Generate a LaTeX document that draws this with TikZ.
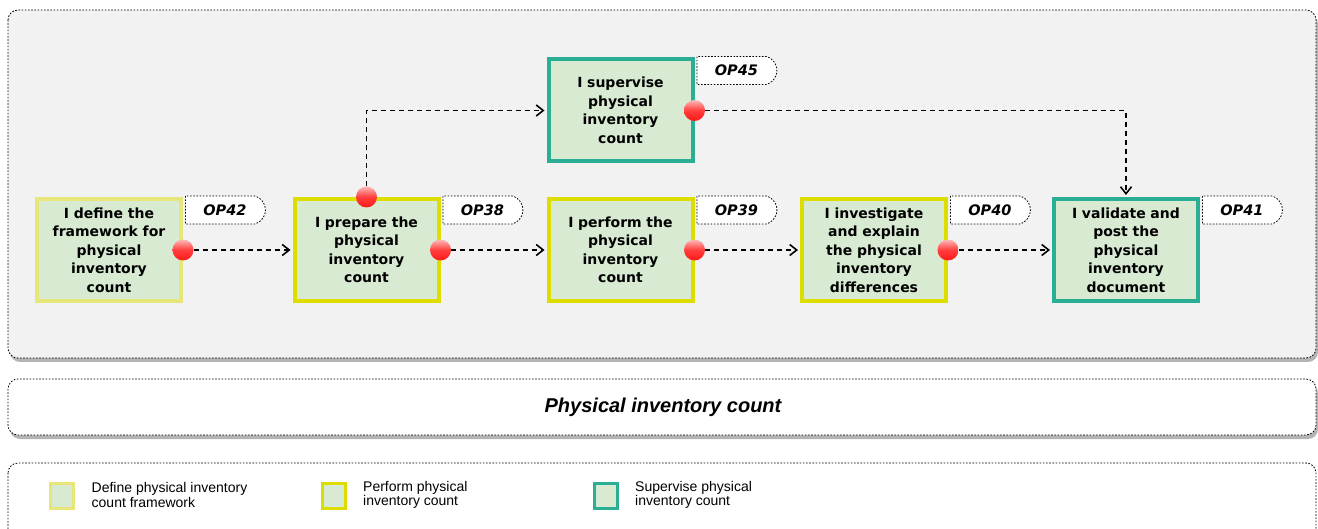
\documentclass[tikz,border=0pt]{standalone}
\usepackage{fontspec}
\setmainfont{DejaVu Sans}
\newfontfamily\arialf{Liberation Sans}
\usetikzlibrary{arrows.meta,shapes.misc}
\definecolor{boxfill}{HTML}{D9EAD3}
\definecolor{ylight}{HTML}{E6E67A}
\definecolor{ystrong}{HTML}{DDDD00}
\definecolor{teal}{HTML}{2AAF94}
\definecolor{panel}{HTML}{F2F2F2}
\definecolor{shadowgray}{HTML}{B4B4B4}
\definecolor{dotred}{HTML}{FF1A1A}
\pgfdeclarelayer{bgl}
\pgfdeclarelayer{tagl}
\pgfsetlayers{bgl,tagl,main}
\tikzset{
  frame/.style={draw=black, line width=0.8pt, dash pattern=on 1.6pt off 1.6pt, rounded corners=10pt},
  actbox/.style={draw, line width=4pt, fill=boxfill, minimum width=144pt, minimum height=102pt,
    inner sep=0pt, text width=140pt, align=center, font=\bfseries\fontsize{14}{18.5}\selectfont},
  tagbox/.style={shape=rounded rectangle, rounded rectangle west arc=none, rounded rectangle arc length=150,
    draw=black, line width=0.8pt, dash pattern=on 1.6pt off 1.6pt, fill=white,
    minimum width=80pt, minimum height=28pt, inner sep=0pt, anchor=west,
    font=\bfseries\itshape\fontsize{14.5}{16}\selectfont},
  dot/.style={circle, inner sep=0pt, minimum size=21pt, top color=dotred!30!white, bottom color=dotred, middle color=dotred!85!white},
  flow/.style={line width=1.3pt, dash pattern=on 5pt off 4pt, -{Straight Barb[length=7pt,width=11pt,line width=1.6pt]}},
  legsq/.style={draw, line width=3pt, fill=boxfill, minimum width=23pt, minimum height=25pt, inner sep=0pt},
  legtxt/.style={anchor=west, inner sep=0pt, align=left, font=\arialf\fontsize{14}{14.5}\selectfont}
}
\begin{document}
\begin{tikzpicture}[x=1pt,y=-1pt]
\clip (0,0) rectangle (1318,529);
\begin{pgfonlayer}{bgl}
  \fill[white] (0,0) rectangle (1318,529);
  \fill[shadowgray, rounded corners=10pt] (10,14) rectangle (1318,362);
  \draw[frame, fill=panel] (8,10) rectangle (1316,358);
  \fill[shadowgray, rounded corners=10pt] (10,383) rectangle (1318,439);
  \draw[frame, fill=white] (8,379) rectangle (1316,435);
  \draw[frame, fill=white] (8,463) rectangle (1316,560);
\end{pgfonlayer}

\node[font=\arialf\bfseries\itshape\fontsize{20}{22}\selectfont] (title) at (663,407) {Physical inventory count};

\node[actbox, draw=ylight] (b42) at (109,250) {I define the\\framework for\\physical\\inventory\\count};
\node[actbox, draw=ystrong] (b38) at (366.5,250) {I prepare the\\physical\\inventory\\count};
\node[actbox, draw=teal] (b45) at (620.5,110.5) {I supervise\\physical\\inventory\\count};
\node[actbox, draw=ystrong] (b39) at (620.5,250) {I perform the\\physical\\inventory\\count};
\node[actbox, draw=ystrong] (b40) at (874,250) {I investigate\\and explain\\the physical\\inventory\\differences};
\node[actbox, draw=teal] (b41) at (1126,250) {I validate and\\post the\\physical\\inventory\\document};

\begin{pgfonlayer}{tagl}
  \node[tagbox] (t42) at ([shift={(2,13)}]b42.north east) {OP42};
  \node[tagbox] (t38) at ([shift={(2,13)}]b38.north east) {OP38};
  \node[tagbox] (t45) at ([shift={(2,13)}]b45.north east) {OP45};
  \node[tagbox] (t39) at ([shift={(2,13)}]b39.north east) {OP39};
  \node[tagbox] (t40) at ([shift={(2,13)}]b40.north east) {OP40};
  \node[tagbox] (t41) at ([shift={(2,13)}]b41.north east) {OP41};
\end{pgfonlayer}

\node[dot] (d42) at (b42.east) {};
\node[dot] (d38) at (b38.east) {};
\node[dot] (d38t) at (b38.north) {};
\node[dot] (d45) at (b45.east) {};
\node[dot] (d39) at (b39.east) {};
\node[dot] (d40) at (b40.east) {};

\draw[flow] (d42.east) -- ([xshift=-2pt]b38.west);
\draw[flow] (d38.east) -- ([xshift=-2pt]b39.west);
\draw[flow] (d39.east) -- ([xshift=-2pt]b40.west);
\draw[flow] (d40.east) -- ([xshift=-2pt]b41.west);
\draw[flow] (d38t.north) |- ([xshift=-2pt]b45.west);
\draw[flow] (d45.east) -| ([yshift=2pt]b41.north);

\node[legsq, draw=ylight] (l1) at (62,496) {};
\node[legtxt] (lt1) at (91.5,495) {Define physical inventory\\count framework};
\node[legsq, draw=ystrong] (l2) at (333.5,496) {};
\node[legtxt] (lt2) at (363,495) {Perform physical\\inventory count};
\node[legsq, draw=teal] (l3) at (606,496) {};
\node[legtxt] (lt3) at (635,495) {Supervise physical\\inventory count};
\end{tikzpicture}
\end{document}
